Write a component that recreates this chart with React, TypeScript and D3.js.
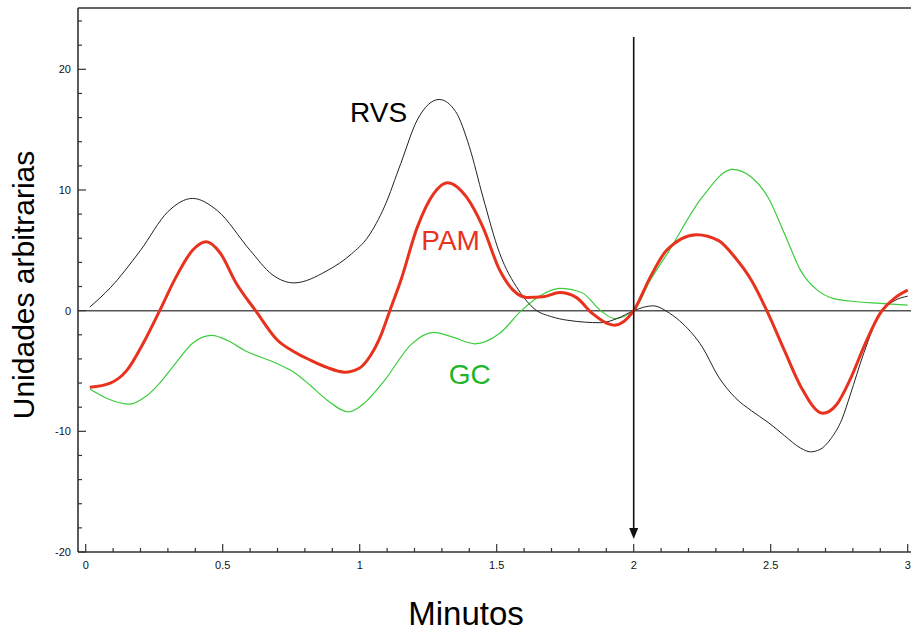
import React from "react";
import * as d3 from "d3";

const rvsT = [0.015,0.09,0.2,0.3,0.39,0.48,0.6,0.68,0.76,0.88,0.97,1.03,1.09,1.15,1.21,1.29,1.35,1.4,1.45,1.51,1.58,1.64,1.7,1.76,1.88,1.94,2.0,2.07,2.13,2.18,2.25,2.31,2.37,2.43,2.49,2.55,2.61,2.645,2.68,2.72,2.76,2.79,2.84,2.9,2.95,3.0];
const rvsV = [0.3,1.9,5.0,8.2,9.3,8.3,5.0,3.0,2.3,3.3,4.7,6.1,8.6,12.2,15.8,17.5,16.5,13.6,9.4,4.8,1.7,0.1,-0.5,-0.8,-1.0,-0.65,0,0.4,-0.2,-1.1,-3.0,-5.5,-7.2,-8.3,-9.25,-10.35,-11.4,-11.7,-11.5,-10.6,-9.0,-7.0,-3.5,-0.2,0.8,1.2];

const pamT = [0.015,0.09,0.15,0.21,0.27,0.33,0.39,0.44,0.49,0.55,0.62,0.7,0.76,0.82,0.88,0.945,1.0,1.04,1.08,1.11,1.15,1.21,1.27,1.32,1.39,1.45,1.51,1.56,1.61,1.67,1.73,1.79,1.85,1.93,2.0,2.06,2.12,2.23,2.31,2.37,2.43,2.49,2.55,2.61,2.69,2.74,2.79,2.84,2.9,2.95,3.0];
const pamV = [-6.35,-6.0,-4.95,-2.7,0,2.8,5.0,5.7,4.8,2.25,0,-2.45,-3.4,-4.1,-4.7,-5.1,-4.75,-3.7,-1.9,0,2.5,6.9,9.7,10.6,9.4,6.9,3.4,1.7,1.1,1.15,1.5,1.1,-0.25,-1.2,0,2.76,5.0,6.3,5.8,4.4,2.5,-0.2,-3.3,-6.3,-8.5,-7.8,-5.7,-3.0,-0.2,1.0,1.7];

const gcT = [0.015,0.08,0.16,0.22,0.27,0.33,0.39,0.46,0.52,0.58,0.7,0.76,0.82,0.88,0.96,1.02,1.09,1.19,1.27,1.34,1.42,1.51,1.59,1.66,1.73,1.81,1.88,1.93,2.0,2.06,2.13,2.25,2.36,2.43,2.49,2.55,2.61,2.67,2.73,2.79,2.9,3.0];
const gcV = [-6.5,-7.3,-7.75,-7.1,-6.0,-4.3,-2.7,-2.05,-2.5,-3.3,-4.4,-5.1,-6.2,-7.4,-8.4,-7.6,-5.8,-2.75,-1.8,-2.2,-2.75,-1.9,0,1.25,1.85,1.5,0,-0.65,0,2.5,5.0,9.4,11.7,11.05,9.4,6.4,3.3,1.7,1.0,0.8,0.6,0.45];

const xTickLabels = ["0", "0.5", "1", "1.5", "2", "2.5", "3"];
const yTickLabels = ["-20", "-10", "0", "10", "20"];

const seriesLabels = [
  { name: "RVS", t: 0.965, v: 15.6 },
  { name: "PAM", t: 1.225, v: 5.0 },
  { name: "GC", t: 1.325, v: -6.1 },
];

export default function App() {
  const W = 911, H = 633;
  const x = d3.scaleLinear().domain([0, 3]).range([85.7, 907.7]);
  const y = d3.scaleLinear().domain([-20, 20]).range([552, 69.3]);
  const left = 78, right = 911, top = 8, bottom = 552;
  const font = "Liberation Sans, Arial, Helvetica, sans-serif";

  const mk = (ts: number[], vs: number[]) =>
    d3.line<number>()
      .x((_, i) => x(ts[i]))
      .y((d) => y(d))
      .curve(d3.curveMonotoneX)(vs) || "";

  const xMinor = d3.range(0, 31).map((i) => i / 10);
  const yMinor = d3.range(-20, 25, 2);
  const axisColor = "#333";

  const colors: Record<string, string> = { RVS: "#000", PAM: "#e8321e", GC: "#1fb52a" };
  const ax = x(2);

  return (
    <svg width={W} height={H} style={{ position: "absolute", left: 0, top: 0, background: "#fff" }}>
      <line x1={left} x2={right} y1={y(0)} y2={y(0)} stroke="#555" strokeWidth={1.5} />
      <path d={mk(gcT, gcV)} fill="none" stroke="#3ccc3c" strokeWidth={1.2} />
      <path d={mk(rvsT, rvsV)} fill="none" stroke="#222" strokeWidth={1} />
      <path d={mk(pamT, pamV)} fill="none" stroke="#e8321e" strokeWidth={3} />
      <line x1={ax} x2={ax} y1={37} y2={530} stroke="#111" strokeWidth={1.6} />
      <path d={`M${ax - 4.5},${528} L${ax + 4.5},${528} L${ax},${539} Z`} fill="#111" />
      <line x1={left} x2={left} y1={top} y2={bottom} stroke={axisColor} strokeWidth={1.6} />
      <line x1={left} x2={right} y1={top} y2={top} stroke={axisColor} strokeWidth={1.6} />
      <line x1={left} x2={right} y1={bottom} y2={bottom} stroke={axisColor} strokeWidth={1.6} />
      {xMinor.map((t, i) => (
        <line key={"xt" + i} x1={x(t)} x2={x(t)} y1={bottom} y2={bottom - (i % 5 === 0 ? 8 : 4)} stroke={axisColor} strokeWidth={1.2} />
      ))}
      {xTickLabels.map((l) => (
        <text key={"xl" + l} x={x(+l)} y={569} textAnchor="middle" fontFamily={font} fontSize={11} fill="#111">{l}</text>
      ))}
      {yMinor.map((v) => (
        <line key={"yt" + v} x1={left} x2={left + (v % 10 === 0 ? 8 : 4)} y1={y(v)} y2={y(v)} stroke={axisColor} strokeWidth={1.2} />
      ))}
      {yTickLabels.map((l) => (
        <text key={"yl" + l} x={71} y={y(+l) + 4} textAnchor="end" fontFamily={font} fontSize={11} fill="#111">{l}</text>
      ))}
      {seriesLabels.map((s) => (
        <text key={s.name} x={x(s.t)} y={y(s.v)} textAnchor="start" fontFamily={font} fontSize={28} fill={colors[s.name]}>{s.name}</text>
      ))}
      <text x={466} y={625} textAnchor="middle" fontFamily={font} fontSize={33} fill="#000">Minutos</text>
      <text transform={`translate(34,285) rotate(-90)`} textAnchor="middle" fontFamily={font} fontSize={30} fill="#000">Unidades arbitrarias</text>
    </svg>
  );
}
